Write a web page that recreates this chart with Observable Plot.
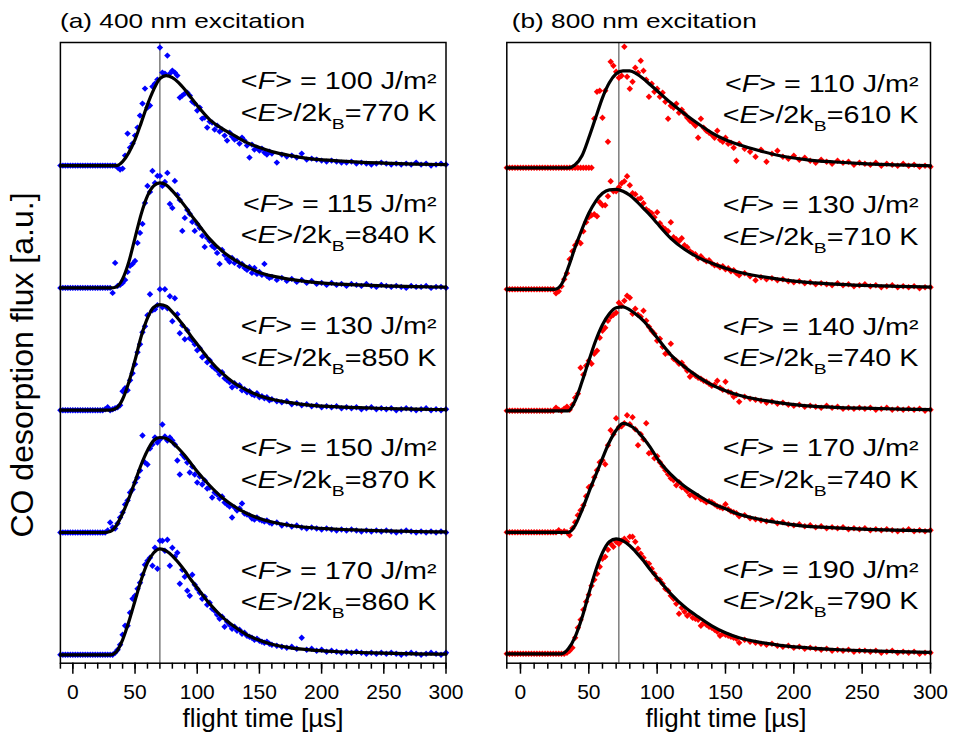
<!DOCTYPE html>
<html>
<head>
<meta charset="utf-8">
<script src="https://cdn.jsdelivr.net/npm/d3@7"></script>
<script src="https://cdn.jsdelivr.net/npm/@observablehq/plot@0.6"></script>
<style>
  body { margin: 0; background: #fff; }
  #chart { position: relative; width: 954px; height: 737px; overflow: hidden; background: #fff; }
  #chart svg { position: absolute; top: 0; }
</style>
</head>
<body>
<div id="chart"></div>
<script>
// ---------------- DATA ----------------
// sampling grid of the measured points (µs)
const tData = [
  -10,-8,-6,-4,-2,0,2,4,6,8,10,12,14,16,18,20,22,24,26,28,
  30,32,34,36,38,40,42,44,46,48,50,52,54,56,58,60,62,64,66,68,
  70,72,74,76,78,80,82,84,86,88,90,92,94,96,98,100,102,104,106,108,
  110,112,114,116,118,120,122,124,126,128,130,132,134,136,138,140,142,144,146,148,
  150,152,154,156,158,
  160,164,168,172,176,180,184,188,192,196,200,204,208,212,216,220,224,228,232,236,
  240,244,248,252,256,260,264,268,272,276,280,284,288,292,296,300
];
// times at which the fit curves are read
const tFit = [-10,25,30,35,40,45,50,55,60,65,70,75,80,85,90,95,100,110,120,130,140,150,160,175,190,210,230,250,275,300];

// (a) 400 nm excitation, fluence labels and temperatures
const fluence400 = [100, 115, 130, 150, 170];
const temp400 = [770, 840, 850, 870, 860];
// (b) 800 nm excitation
const fluence800 = [110, 130, 140, 170, 190];
const temp800 = [610, 710, 740, 740, 790];

// peak reference lines (µs)
const refLine400 = 70;
const refLine800 = 72;

// axis ticks
const majorTicks = [0, 50, 100, 150, 200, 250, 300];
const minorTicks = [-10,0,10,20,30,40,50,60,70,80,90,100,110,120,130,140,150,160,170,180,190,200,210,220,230,240,250,260,270,280,290,300];

// measured points, panel (a)
const a100 = [
  0,0,0,0,0,0,0,0,0,0, 0,0,0,0,0,0,0,0,0,0,
  0,0,0,-0.02,-0.04,-0.03,0.10,0.32,0.18,0.22,
  0.30,0.38,0.50,0.62,0.77,0.58,0.60,0.79,0.82,0.86,
  1.18,0.93,0.92,1.10,0.92,0.95,0.93,0.90,0.68,0.70,
  0.72,0.73,0.70,0.64,0.62,0.55,0.58,0.47,0.48,0.38,
  0.44,0.43,0.36,0.40,0.34,0.36,0.30,0.25,0.33,0.29,
  0.26,0.27,0.22,0.28,0.25,0.20,0.08,0.21,0.16,0.18,
  0.15,0.17,0.13,0.11,0.14,
  0.12,0.03,0.11,0.09,0.10,0.08,0.12,0.06,0.07,0.06,
  0.05,0.04,0.05,0.04,0.03,0.03,0.04,0.02,0.03,0.02,
  0.01,0.02,0.03,0.02,0.01,0.02,0.01,0.02,0.01,0.03,
  0.01,0.02,0.00,0.01,0.02,0.01
];
const a115 = [
  0,0,0,0,0,0,0,0,0,0, 0,0,0,0,0,0,0,0,0,0,
  0,-0.05,0.25,0.02,0.03,0.05,0.08,0.16,0.22,0.24,
  0.27,0.45,0.55,0.64,0.85,1.02,0.96,1.17,1.05,1.12,
  1.12,1.02,1.06,1.15,0.84,0.80,1.07,0.93,0.88,0.57,
  0.70,0.78,0.74,0.66,0.57,0.64,0.60,0.52,0.41,0.50,
  0.47,0.42,0.40,0.35,0.24,0.38,0.33,0.29,0.26,0.30,
  0.25,0.27,0.22,0.24,0.20,0.18,0.21,0.15,0.20,0.14,
  0.16,0.13,0.24,0.12,0.10,
  0.11,0.08,0.10,0.07,0.09,0.06,0.08,0.05,0.07,0.04,
  0.05,0.03,0.05,0.03,0.04,0.02,0.04,0.03,0.02,0.04,
  0.02,0.01,0.03,0.02,0.01,0.02,0.01,0.00,0.02,0.01,
  0.01,0.02,0.00,0.01,0.01,0.00
];
const a130 = [
  0,0,0,0,0,0,0,0,0,0, 0,0,0,0,0,0,0,0,0.01,0.03,
  0,0.01,0.02,0.03,0.05,0.19,0.22,0.20,0.30,0.37,
  0.46,0.58,0.66,0.78,0.84,0.95,1.16,1.00,1.01,1.05,
  1.21,1.03,1.21,1.02,1.14,0.89,1.12,0.96,0.77,0.85,
  0.71,0.80,0.72,0.70,0.66,0.60,0.62,0.53,0.55,0.48,
  0.50,0.44,0.42,0.40,0.36,0.38,0.32,0.30,0.28,0.23,
  0.27,0.24,0.25,0.20,0.21,0.18,0.19,0.16,0.15,0.17,
  0.13,0.14,0.12,0.13,0.10,
  0.11,0.09,0.08,0.09,0.06,0.07,0.05,0.06,0.04,0.05,
  0.03,0.04,0.03,0.04,0.02,0.03,0.02,0.03,0.01,0.02,
  0.03,0.01,0.02,0.01,0.02,0.00,0.01,0.02,0.01,0.00,
  0.01,0.02,0.00,0.01,0.00,0.01
];
const a150 = [
  0,0,0,0,0,0,0,0,0,0, 0,0,0,0,0,0,0,0,0,0.02,
  0.10,0.05,0.04,0.09,0.15,0.20,0.28,0.32,0.40,0.43,
  0.50,0.55,0.62,0.97,0.70,0.68,0.84,0.88,0.95,0.90,
  0.93,1.08,0.96,0.92,0.95,0.92,0.88,0.72,0.58,0.78,
  0.75,0.70,0.60,0.66,0.58,0.50,0.56,0.48,0.52,0.44,
  0.45,0.35,0.40,0.38,0.34,0.36,0.30,0.28,0.26,0.15,
  0.25,0.22,0.24,0.29,0.19,0.18,0.17,0.14,0.13,0.15,
  0.13,0.12,0.11,0.12,0.10,
  0.09,0.10,0.07,0.08,0.06,0.07,0.05,0.04,0.05,0.04,
  0.03,0.04,0.03,0.02,0.03,0.02,0.03,0.02,0.01,0.02,
  0.01,0.02,0.01,0.02,0.01,0.00,0.01,0.02,0.01,0.00,
  0.01,0.00,0.01,0.00,0.01,0.00
];
const a170 = [
  0,0,0,0,0,0,0,0,0,0, 0,0,0,0,0,0,0,0,0,0,
  0,0,0.02,0.05,0.10,0.20,0.29,0.29,0.42,0.56,
  0.59,0.66,0.72,0.80,0.90,0.94,0.97,0.89,1.07,0.86,
  1.14,1.14,1.04,1.15,0.89,1.07,0.98,1.02,0.71,0.85,
  0.78,0.64,0.59,0.80,0.70,0.66,0.62,0.56,0.58,0.50,
  0.52,0.46,0.44,0.40,0.36,0.38,0.28,0.33,0.30,0.26,
  0.28,0.24,0.25,0.21,0.22,0.19,0.18,0.17,0.15,0.16,
  0.14,0.13,0.12,0.13,0.11,
  0.10,0.09,0.08,0.07,0.08,0.06,0.17,0.05,0.06,0.04,
  0.05,0.03,0.04,0.03,0.02,0.03,0.02,0.03,0.02,0.01,
  0.02,0.01,0.02,0.01,0.02,0.01,0.00,0.01,0.02,0.01,
  0.00,0.01,0.02,0.01,0.00,0.02
];
// measured points, panel (b)
const b110 = [
  0,0,0,0,0,0,0,0,0,0, 0,0,0,0,0,0,0,0,0,0,
  0,0,0,0,0,0,0,0,0,0,
  0,0,0.49,0.76,0.77,0.50,0.77,0.26,1.06,1.02,
  0.96,0.90,0.92,1.21,0.91,0.79,0.86,1.00,0.95,1.07,
  0.97,0.88,0.71,0.84,0.76,0.79,0.71,0.75,0.66,0.49,
  0.62,0.60,0.64,0.55,0.58,0.54,0.50,0.47,0.45,0.42,
  0.30,0.49,0.40,0.37,0.35,0.33,0.30,0.37,0.28,0.26,
  0.30,0.24,0.25,0.20,0.07,
  0.24,0.19,0.16,0.11,0.18,0.06,0.14,0.17,0.11,0.09,
  0.12,0.08,0.10,0.07,0.05,0.08,0.06,0.04,0.07,0.05,
  0.06,0.03,0.05,0.04,0.03,0.05,0.02,0.04,0.03,0.02,
  0.04,0.02,0.03,0.01,0.02,0.01
];
const b130 = [
  0,0,0,0,0,0,0,0,0,0, 0,0,0,0,0,0,0,0,-0.04,-0.02,
  0.03,0.10,0.16,0.30,0.38,0.44,0.48,0.46,0.58,0.67,
  0.72,0.74,0.75,0.73,0.87,0.84,0.84,0.93,1.08,0.98,
  0.98,1.02,1.06,1.08,1.13,1.04,0.96,0.95,0.90,0.91,
  0.86,0.80,0.78,0.76,0.72,0.77,0.66,0.62,0.60,0.58,
  0.67,0.52,0.50,0.48,0.51,0.44,0.42,0.38,0.36,0.35,
  0.31,0.33,0.30,0.28,0.29,0.26,0.24,0.24,0.22,0.23,
  0.20,0.21,0.18,0.19,0.16,
  0.14,0.16,0.13,0.09,0.12,0.10,0.11,0.09,0.10,0.08,
  0.07,0.08,0.06,0.07,0.05,0.06,0.05,0.04,0.06,0.04,
  0.05,0.03,0.04,0.05,0.03,0.04,0.02,0.03,0.04,0.02,
  0.03,0.02,0.03,0.01,0.02,0.02
];
const b140 = [
  0,0,0,0,0,0,0,0,0,0, 0,0,0,0,0,0,0,0,0.03,0.01,
  0.00,0.02,0.04,0.01,0.06,0.13,0.17,0.43,0.36,0.45,
  0.50,0.47,0.57,0.60,0.73,0.80,0.83,0.90,0.94,0.96,
  0.98,1.08,1.05,1.10,1.15,1.13,0.97,1.02,0.96,0.94,
  1.00,0.90,0.84,0.80,0.77,0.70,0.72,0.64,0.57,0.58,
  0.67,0.52,0.50,0.47,0.48,0.44,0.40,0.34,0.37,0.35,
  0.33,0.32,0.30,0.29,0.27,0.25,0.26,0.30,0.23,0.21,
  0.29,0.19,0.18,0.14,0.16,
  0.09,0.14,0.12,0.11,0.10,0.08,0.09,0.07,0.08,0.06,
  0.05,0.06,0.04,0.05,0.04,0.03,0.05,0.03,0.04,0.02,
  0.03,0.02,0.03,0.02,0.03,0.01,0.02,0.03,0.01,0.02,
  0.01,0.02,0.01,0.02,0.00,0.01
];
const b170 = [
  0,0,0,0,0,0,0,0,0,0, 0,0,0,0,0,0,0,0,0,0.02,
  0.00,0.01,0.00,-0.03,0.04,0.10,0.17,0.22,0.27,0.36,
  0.45,0.47,0.55,0.62,0.70,0.72,0.68,0.87,1.02,0.98,
  1.14,1.05,1.06,1.09,1.17,1.08,1.15,1.03,0.87,0.98,
  0.93,1.09,0.79,0.80,0.74,0.76,0.70,0.66,0.62,0.58,
  0.54,0.52,0.47,0.50,0.45,0.44,0.41,0.37,0.38,0.35,
  0.36,0.33,0.32,0.30,0.31,0.30,0.28,0.26,0.25,0.24,
  0.28,0.23,0.21,0.20,0.19,
  0.16,0.17,0.14,0.13,0.12,0.11,0.12,0.09,0.10,0.08,
  0.07,0.08,0.06,0.07,0.05,0.06,0.04,0.05,0.04,0.05,
  0.03,0.04,0.03,0.04,0.02,0.03,0.02,0.03,0.02,0.01,
  0.02,0.03,0.01,0.02,0.01,0.02
];
const b190 = [
  0,0,0,0,0,0,0,0,0,0, 0,0,0,0,0,0,0,0,0,0,
  0.00,0.00,0.01,0.03,0.06,0.16,0.26,0.34,0.44,0.52,
  0.59,0.68,0.74,0.80,0.87,0.95,0.97,1.04,1.10,1.07,
  1.12,1.10,1.13,1.15,1.12,1.17,1.17,1.12,1.05,1.00,
  0.96,0.91,0.90,0.85,0.80,0.75,0.74,0.70,0.65,0.63,
  0.58,0.55,0.50,0.40,0.46,0.42,0.38,0.40,0.36,0.35,
  0.34,0.28,0.31,0.29,0.27,0.26,0.24,0.22,0.18,0.20,
  0.19,0.18,0.17,0.16,0.15,
  0.11,0.14,0.12,0.11,0.10,0.09,0.10,0.08,0.07,0.08,
  0.06,0.07,0.05,0.06,0.05,0.04,0.05,0.03,0.04,0.03,
  0.04,0.02,0.03,0.03,0.02,0.03,0.01,0.02,0.03,0.01,
  0.02,0.01,0.02,0.00,0.01,0.01
];

// fit curves (values at tFit)
const fitA100 = [0,0,0,0,0.04,0.13,0.26,0.43,0.61,0.76,0.87,0.90,0.88,0.83,0.76,0.68,0.60,0.46,0.37,0.30,0.23,0.18,0.14,0.10,0.07,0.05,0.035,0.025,0.015,0.01];
const fitA115 = [0,0,0,0.01,0.09,0.26,0.50,0.74,0.92,1.02,1.05,1.03,0.97,0.90,0.82,0.73,0.65,0.49,0.37,0.28,0.21,0.155,0.12,0.085,0.06,0.04,0.03,0.02,0.012,0.008];
const fitA130 = [0,0,0,0.02,0.11,0.28,0.50,0.74,0.92,1.03,1.056,1.04,0.98,0.91,0.83,0.74,0.66,0.50,0.37,0.27,0.20,0.145,0.11,0.075,0.05,0.035,0.025,0.017,0.01,0.006];
const fitA150 = [0,0,0.01,0.07,0.19,0.34,0.51,0.68,0.82,0.92,0.95,0.94,0.90,0.84,0.77,0.69,0.61,0.47,0.35,0.26,0.19,0.14,0.105,0.07,0.05,0.035,0.025,0.017,0.01,0.006];
const fitA170 = [0,0,0,0.03,0.15,0.33,0.54,0.75,0.92,1.02,1.06,1.04,0.99,0.92,0.84,0.75,0.67,0.51,0.38,0.28,0.20,0.145,0.105,0.07,0.05,0.033,0.023,0.016,0.01,0.006];
const fitB110 = [0,0,0,0,0.03,0.12,0.30,0.50,0.70,0.85,0.94,0.97,0.97,0.94,0.89,0.83,0.77,0.65,0.54,0.44,0.35,0.28,0.23,0.17,0.12,0.08,0.058,0.042,0.03,0.02];
const fitB130 = [0,0,0.05,0.22,0.42,0.60,0.76,0.88,0.96,0.995,1.00,0.98,0.94,0.88,0.81,0.74,0.66,0.51,0.40,0.32,0.26,0.21,0.17,0.13,0.10,0.07,0.052,0.04,0.03,0.022];
const fitB140 = [0,0,0,0,0.10,0.29,0.50,0.70,0.86,0.97,1.03,1.04,1.01,0.96,0.90,0.82,0.73,0.56,0.44,0.34,0.26,0.20,0.155,0.11,0.08,0.05,0.035,0.026,0.018,0.012];
const fitB170 = [0,0,0,0,0.07,0.22,0.40,0.57,0.74,0.90,1.02,1.09,1.07,1.02,0.94,0.85,0.74,0.58,0.46,0.37,0.29,0.235,0.18,0.13,0.095,0.06,0.045,0.032,0.022,0.015];
const fitB190 = [0,0,0,0.05,0.17,0.36,0.60,0.83,1.01,1.12,1.15,1.13,1.08,1.01,0.93,0.84,0.76,0.60,0.47,0.37,0.28,0.21,0.16,0.115,0.085,0.06,0.043,0.032,0.022,0.015];

// ---------------- DRAWING ----------------
const FONT = '"Liberation Sans", Arial, Helvetica, sans-serif';
const SVGNS = "http://www.w3.org/2000/svg";
const H = 737, MT = 42, MB = 74.3;

function buildPanel(cfg) {
  const off = i => (4 - i) * cfg.spacing;
  const pts = [];
  cfg.series.forEach((s, i) => {
    if (s.length !== tData.length) throw new Error(`${cfg.name} series ${i} has ${s.length} values, expected ${tData.length}`);
    s.forEach((v, j) => pts.push({t: tData[j], v, i}));
  });
  const fpts = [];
  cfg.fits.forEach((s, i) => {
    if (s.length !== tFit.length) throw new Error(`${cfg.name} fit ${i} has ${s.length} values`);
    s.forEach((v, k) => fpts.push({t: tFit[k], v, i}));
  });
  const annos = cfg.fluence.map((f, i) => ({i, f, T: cfg.temp[i]}));
  const yMax = cfg.yMin + (H - MB - MT) / 100;
  return Plot.plot({
    width: cfg.width,
    height: H,
    marginLeft: cfg.marginLeft,
    marginRight: cfg.marginRight,
    marginTop: MT,
    marginBottom: MB,
    x: {domain: [-10, 300]},
    y: {domain: [cfg.yMin, yMax], axis: null},
    style: {fontFamily: FONT, background: "transparent", overflow: "visible", color: "black"},
    marks: [
      Plot.ruleX([cfg.ref], {stroke: "#3c3c3c", strokeWidth: 1}),
      Plot.dot(pts, {x: "t", y: d => d.v + off(d.i), symbol: "diamond2", r: 2.9, fill: cfg.color, stroke: "none"}),
      Plot.line(fpts, {x: "t", y: d => d.v + off(d.i), z: "i", curve: "monotone-x", stroke: "black", strokeWidth: 3.2}),
      Plot.text(annos, {frameAnchor: "right", y: d => off(d.i) + 0.835, text: d => `<F> = ${d.f} J/m²`,
        textAnchor: "end", lineAnchor: "middle", dx: cfg.textDx, fontSize: 23, fill: "black"}),
      Plot.text(annos, {frameAnchor: "right", y: d => off(d.i) + 0.52, text: d => `<E>/2kB=${d.T} K`,
        textAnchor: "end", lineAnchor: "middle", dx: cfg.textDx, fontSize: 23, fill: "black"}),
      Plot.frame({stroke: "black", strokeWidth: 1.5}),
      Plot.axisX({ticks: minorTicks, tickSize: 6, tickFormat: () => "", label: null, strokeWidth: 1.5}),
      Plot.axisX({ticks: majorTicks, tickSize: 11, tickPadding: 10, fontSize: 21, label: null, strokeWidth: 1.5})
    ]
  });
}

function addSpan(parent, txt, attrs = {}) {
  const s = document.createElementNS(SVGNS, "tspan");
  for (const k in attrs) s.setAttribute(k, attrs[k]);
  s.textContent = txt;
  parent.appendChild(s);
  return s;
}

function richify(svg) {
  svg.querySelectorAll("text").forEach(el => {
    const s = el.textContent;
    if (s.startsWith("<F>")) {
      const rest = s.slice(3);
      el.textContent = "";
      addSpan(el, "<");
      addSpan(el, "F", {"font-style": "italic"});
      addSpan(el, ">" + rest);
      el.classList.add("stretch");
    } else if (s.startsWith("<E>/2kB")) {
      const rest = s.slice(7);
      el.textContent = "";
      addSpan(el, "<");
      addSpan(el, "E", {"font-style": "italic"});
      addSpan(el, ">/2k");
      addSpan(el, "B", {"font-size": "15.5", "dy": "8"});
      addSpan(el, rest, {"dy": "-8"});
      el.classList.add("stretch");
    }
  });
}

// horizontal stretch of a text about its anchor point (texts inside Plot's mark groups)
function stretchText(el, s) {
  const parent = el.parentNode;
  const pm = parent.getCTM(), tm = el.getCTM();
  if (!pm || !tm) return;
  const M = pm.inverse().multiply(tm);
  const x = parseFloat(el.getAttribute("x")) || 0, y = parseFloat(el.getAttribute("y")) || 0;
  const ax = M.a * x + M.c * y + M.e, ay = M.b * x + M.d * y + M.f;
  const g = document.createElementNS(SVGNS, "g");
  g.setAttribute("transform", `translate(${ax},${ay}) scale(${s},1) translate(${-ax},${-ay})`);
  parent.insertBefore(g, el);
  g.appendChild(el);
}

function addText(svg, txt, attrs) {
  const t = document.createElementNS(SVGNS, "text");
  t.setAttribute("text-anchor", "start");
  for (const k in attrs) t.setAttribute(k, attrs[k]);
  t.setAttribute("font-family", FONT);
  t.setAttribute("fill", "black");
  t.textContent = txt;
  svg.appendChild(t);
  return t;
}

const container = document.getElementById("chart");

const left = buildPanel({
  name: "400nm", series: [a100, a115, a130, a150, a170],
  fits: [fitA100, fitA115, fitA130, fitA150, fitA170],
  fluence: fluence400, temp: temp400, color: "#0000ff", ref: refLine400,
  width: 470, marginLeft: 59.9, marginRight: 24.5, yMin: -0.084, spacing: 1.223, textDx: -9.5
});
left.style.left = "0px";
container.appendChild(left);

const right = buildPanel({
  name: "800nm", series: [b110, b130, b140, b170, b190],
  fits: [fitB110, fitB130, fitB140, fitB170, fitB190],
  fluence: fluence800, temp: temp800, color: "#ff0000", ref: refLine800,
  width: 484, marginLeft: 36.3, marginRight: 24, yMin: -0.094, spacing: 1.215, textDx: -12
});
right.style.left = "470px";
container.appendChild(right);

[left, right].forEach(svg => {
  richify(svg);
  svg.querySelectorAll("text.stretch").forEach(el => stretchText(el, 1.25));
});

// titles (horizontally stretched like the annotations), axis labels
addText(left, "(a) 400 nm excitation", {transform: "translate(60,28.3) scale(1.25,1)", "font-size": 21, "text-anchor": "start"});
addText(right, "(b) 800 nm excitation", {transform: `translate(${511.7 - 470},28.3) scale(1.25,1)`, "font-size": 21, "text-anchor": "start"});
addText(left, "flight time [µs]", {x: 263, y: 727, "font-size": 26, "text-anchor": "middle"});
addText(right, "flight time [µs]", {x: 726 - 470, y: 727, "font-size": 26, "text-anchor": "middle"});
addText(left, "CO desorption flux [a.u.]", {transform: "translate(33,365) rotate(-90)", "font-size": 32, "text-anchor": "middle"});
</script>
</body>
</html>
